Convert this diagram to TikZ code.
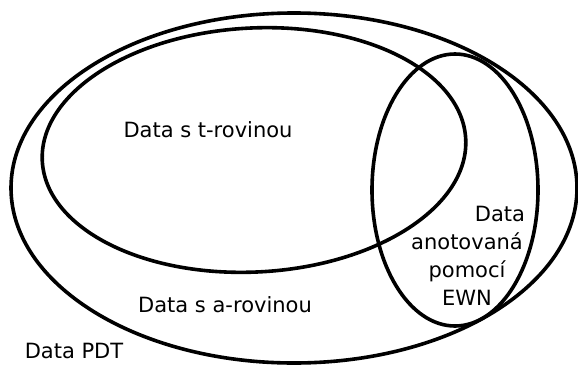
\documentclass[tikz,border=0pt]{standalone}
\usepackage{fontspec}
\setmainfont{DejaVu Sans}
\usepackage{tikz}

\begin{document}
\begin{tikzpicture}[x=1pt,y=-1pt,line width=3.6pt,
  every node/.style={font=\fontsize{21}{28}\selectfont,inner sep=0pt}]

\useasboundingbox (0,0) rectangle (578,364);

% Data PDT
\draw (294,188) ellipse [x radius=283pt,y radius=175pt];

% Data s t-rovinou
\draw (254,150) [rotate around={3:(254,150)}] ellipse [x radius=212pt,y radius=122pt];

% Data anotovana pomoci EWN
\draw (455,190) ellipse [x radius=83pt,y radius=136pt];

\node (trov) at (208,130){Data s t-rovinou};
\node (arov) at (225,305){Data s a-rovinou};
\node (pdt) at (74,351){Data PDT};
\node[align=center] (ewn) at (467,256)
  {\hspace*{66pt}Data\\anotovaná\\pomocí\\EWN};

\end{tikzpicture}
\end{document}
